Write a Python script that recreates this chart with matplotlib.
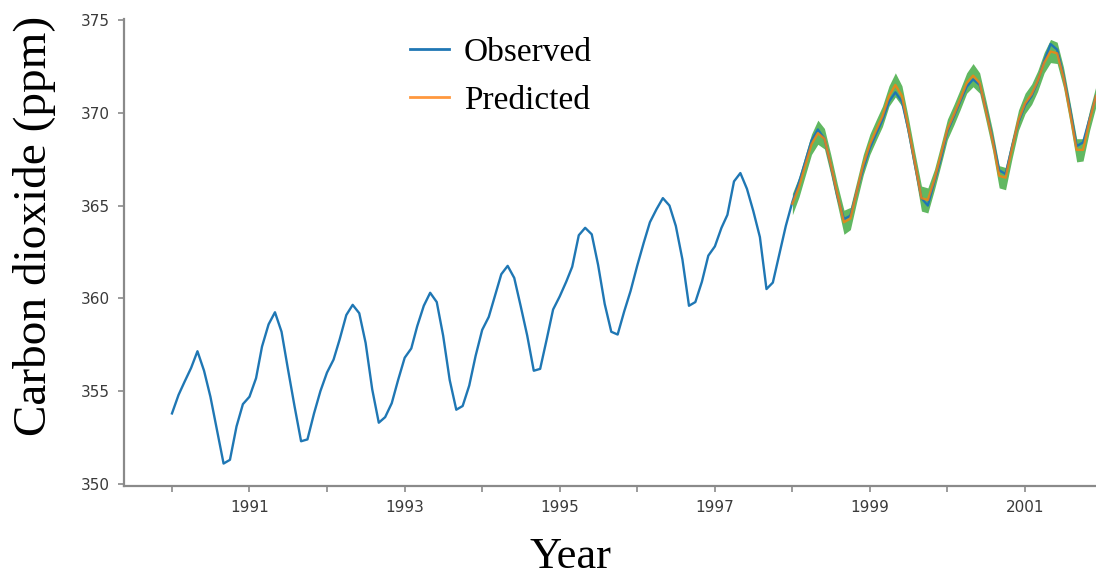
import matplotlib
matplotlib.use("Agg")
import matplotlib.pyplot as plt
import matplotlib.dates as mdates
import pandas as pd
import datetime as dt

# ---------------- data ----------------
obs_start = "1990-01-01"
observed = [
    # 1990
    353.8, 354.8, 355.5, 356.25, 357.15, 356.1, 354.7, 352.9, 351.1, 351.3, 353.1, 354.3,
    # 1991
    354.7, 355.7, 357.4, 358.6, 359.25, 358.2, 356.2, 354.2, 352.3, 352.4, 353.8, 355.0,
    # 1992
    356.0, 356.7, 357.8, 359.1, 359.65, 359.2, 357.6, 355.1, 353.3, 353.6, 354.35, 355.6,
    # 1993
    356.8, 357.3, 358.5, 359.6, 360.3, 359.8, 358.0, 355.6, 354.0, 354.2, 355.3, 356.9,
    # 1994
    358.3, 359.0, 360.1, 361.3, 361.75, 361.1, 359.6, 358.0, 356.1, 356.2, 357.8, 359.4,
    # 1995
    360.1, 360.9, 361.7, 363.4, 363.8, 363.45, 361.8, 359.7, 358.2, 358.05, 359.3, 360.4,
    # 1996
    361.75, 363.0, 364.1, 364.8, 365.4, 365.0, 363.9, 362.1, 359.6, 359.8, 360.9, 362.3,
    # 1997
    362.8, 363.8, 364.5, 366.3, 366.75, 365.9, 364.7, 363.3, 360.5, 360.85, 362.4, 363.9,
    # 1998
    365.2, 366.25, 367.3, 368.5, 369.1, 368.6, 367.15, 365.5, 364.27, 364.45, 365.8, 367.0,
    # 1999
    368.1, 368.9, 369.6, 370.6, 371.1, 370.6, 369.1, 367.2, 365.4, 365.0, 366.3, 367.5,
    # 2000
    369.0, 369.8, 370.6, 371.4, 371.8, 371.5, 370.2, 368.6, 366.9, 366.7, 368.2, 369.5,
    # 2001
    370.4, 370.9, 371.65, 372.8, 373.7, 373.4, 372.0, 370.2, 368.2, 368.4, 369.7, 370.9,
]

pred_start = "1998-01-01"
predicted = [
    365.1, 366.0, 367.1, 368.3, 368.9, 368.6, 367.2, 365.6, 364.1, 364.3, 365.8, 367.2,
    368.3, 369.1, 369.8, 370.9, 371.5, 370.9, 369.2, 367.3, 365.4, 365.3, 366.4, 367.7,
    369.1, 369.9, 370.7, 371.6, 372.0, 371.6, 370.1, 368.5, 366.6, 366.5, 368.1, 369.6,
    370.5, 371.0, 371.7, 372.7, 373.3, 373.2, 371.9, 370.0, 368.0, 368.0, 369.6, 370.9,
]
ci_lower = [
    364.5, 365.45, 366.55, 367.75, 368.3, 368.05, 366.65, 365.05, 363.45, 363.7, 365.25, 366.65,
    367.75, 368.55, 369.25, 370.35, 370.85, 370.35, 368.65, 366.75, 364.7, 364.6, 365.85, 367.15,
    368.55, 369.35, 370.15, 371.05, 371.4, 371.05, 369.55, 367.95, 365.95, 365.85, 367.55, 369.05,
    369.95, 370.45, 371.15, 372.15, 372.7, 372.65, 371.35, 369.45, 367.35, 367.4, 369.05, 370.35,
]
ci_upper = [
    365.65, 366.55, 367.65, 368.85, 369.6, 369.15, 367.75, 366.15, 364.75, 364.9, 366.35, 367.75,
    368.85, 369.65, 370.35, 371.45, 372.15, 371.45, 369.75, 367.85, 366.05, 365.95, 366.95, 368.25,
    369.65, 370.45, 371.25, 372.15, 372.65, 372.15, 370.65, 369.05, 367.15, 367.05, 368.65, 370.15,
    371.05, 371.55, 372.25, 373.25, 373.95, 373.8, 372.45, 370.55, 368.6, 368.6, 370.15, 371.45,
]

major_years = [1991, 1993, 1995, 1997, 1999, 2001]
minor_years = [1990, 1992, 1994, 1996, 1998, 2000]
y_ticks = [350, 355, 360, 365, 370, 375]

labels = ["Observed", "Predicted"]
y_label = "Carbon dioxide (ppm)"
x_label = "Year"

# ---------------- plotting ----------------
obs_dates = pd.date_range(obs_start, periods=len(observed), freq="MS")
pred_dates = pd.date_range(pred_start, periods=len(predicted), freq="MS")

W, H = 1096, 576
fig = plt.figure(figsize=(W / 100, H / 100), dpi=100)
ax = fig.add_axes([124 / W, 90 / H, 972 / W, 467 / H])

ax.fill_between(pred_dates, ci_lower, ci_upper, color="#2ca02c", alpha=0.75,
                linewidth=0, zorder=1)
ax.plot(obs_dates, observed, color="#1f77b4", lw=1.7, label=labels[0], zorder=2)
ax.plot(pred_dates, predicted, color="#ff7f0e", lw=1.7, alpha=0.8,
        label=labels[1], zorder=3)

x_left = mdates.date2num(dt.datetime(1989, 5, 20))
x_right = mdates.date2num(dt.datetime(2001, 12, 1))
ax.set_xlim(x_left, x_right)
ax.set_ylim(349.89, 375.05)

ax.xaxis.set_major_locator(matplotlib.ticker.FixedLocator(
    [mdates.date2num(dt.datetime(y, 1, 1)) for y in major_years]))
ax.xaxis.set_minor_locator(matplotlib.ticker.FixedLocator(
    [mdates.date2num(dt.datetime(y, 1, 1)) for y in minor_years]))
ax.xaxis.set_major_formatter(mdates.DateFormatter("%Y"))
ax.set_yticks(y_ticks)

for side in ("top", "right"):
    ax.spines[side].set_visible(False)
for side in ("left", "bottom"):
    ax.spines[side].set_color("#8a8a8a")
    ax.spines[side].set_linewidth(1.6)

ax.tick_params(axis="both", which="major", length=4, width=1.2, color="#8a8a8a",
               labelsize=11, labelcolor="#3a3a3a", pad=6)
ax.tick_params(axis="x", which="minor", length=4, width=1.2, color="#8a8a8a")

serif = ["Liberation Serif", "DejaVu Serif"]
fig.text(35 / W, 1 - 226 / H, y_label, rotation=90, ha="center", va="center",
         family=serif, fontsize=34, color="black")
fig.text(570 / W, 8 / H, x_label, ha="center", va="baseline",
         family=serif, fontsize=32, color="black")

leg = ax.legend(loc="upper left", bbox_to_anchor=(397 / W, 1 - 24 / H),
                bbox_transform=fig.transFigure, borderaxespad=0, frameon=False,
                prop={"family": serif, "size": 24}, handlelength=1.15,
                handletextpad=0.45, labelspacing=0.52)
for line in leg.get_lines():
    line.set_linewidth(2.0)

fig.savefig("out.png", dpi=100)
